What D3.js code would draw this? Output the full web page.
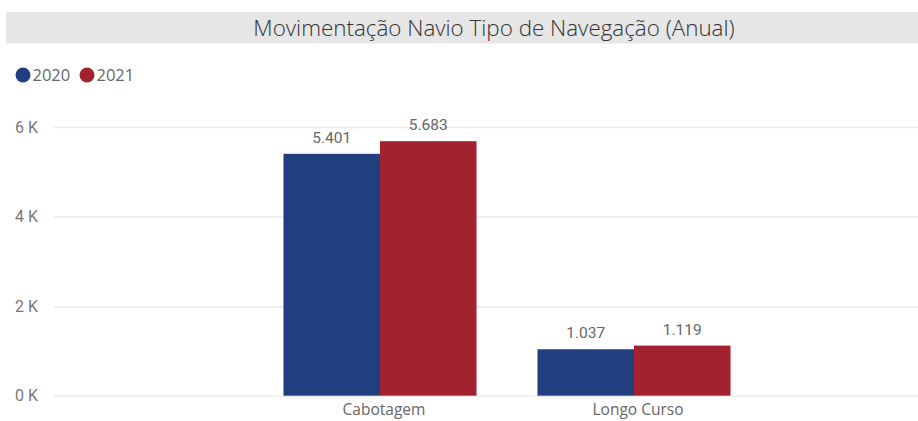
<!DOCTYPE html>
<html>
<head>
<meta charset="utf-8">
<script src="https://cdn.jsdelivr.net/npm/d3@7"></script>
<style>
  html, body { margin: 0; padding: 0; background: #fff; }
  svg { display: block; }
</style>
</head>
<body>
<svg id="chart" width="918" height="421"></svg>
<script>
const title = "Movimentação Navio Tipo de Navegação (Anual)";
const categories = ["Cabotagem", "Longo Curso"];
const seriesNames = ["2020", "2021"];
const values2020 = [5401, 1037];
const values2021 = [5683, 1119];
const yTicks = [0, 2000, 4000, 6000];
const colors = ["#213f7e", "#a32230"];

const W = 918, H = 421;
const svg = d3.select("#chart");

// title bar
svg.append("rect").attr("x", 6).attr("y", 12).attr("width", W - 6).attr("height", 31.5).attr("fill", "#e6e6e6");
svg.append("text").attr("x", 494).attr("y", 36)
  .attr("text-anchor", "middle")
  .attr("font-family", "'Open Sans', 'Noto Sans', sans-serif")
  .attr("font-weight", 300)
  .attr("font-size", 22.4)
  .attr("fill", "#333")
  .text(title);

// legend
const legend = svg.append("g");
const legendX = [23, 87];
seriesNames.forEach((s, i) => {
  legend.append("circle").attr("cx", legendX[i]).attr("cy", 75).attr("r", 7.5).attr("fill", colors[i]);
  legend.append("text").attr("x", legendX[i] + 9.5).attr("y", 81)
    .attr("font-family", "'Open Sans', 'Noto Sans', sans-serif")
    .attr("font-size", 16.5).attr("fill", "#666").text(s);
});

// scales
const y = d3.scaleLinear().domain([0, 6000]).range([395.7, 127]);
const x0 = d3.scaleBand().domain(categories).range([253, 761]).paddingInner(0.24).paddingOuter(0.12);
const x1 = d3.scaleBand().domain(seriesNames).range([0, x0.bandwidth()]);

// gridlines + y axis
const yAxis = d3.axisLeft(y).tickValues(yTicks).tickSize(-(W - 54)).tickFormat(d => (d / 1000) + " K");
const gy = svg.append("g").attr("transform", "translate(54,0)").call(yAxis);
gy.select(".domain").remove();
gy.selectAll(".tick line").attr("stroke", "#ebebeb").attr("stroke-width", 1.5);
gy.selectAll(".tick text")
  .attr("x", -16)
  .attr("font-family", "'Roboto', 'DejaVu Sans', sans-serif")
  .attr("font-size", 16).attr("fill", "#777");

// bars
const data = categories.map((c, i) => ({ cat: c, vals: [values2020[i], values2021[i]] }));
const groups = svg.selectAll("g.grp").data(data).enter().append("g")
  .attr("class", "grp")
  .attr("transform", d => `translate(${x0(d.cat)},0)`);

groups.selectAll("rect").data(d => d.vals.map((v, j) => ({ s: seriesNames[j], v, j })))
  .enter().append("rect")
  .attr("x", d => x1(d.s))
  .attr("width", x1.bandwidth())
  .attr("y", d => y(d.v))
  .attr("height", d => y(0) - y(d.v))
  .attr("fill", d => colors[d.j]);

const fmt = v => d3.format(",")(v).replace(/,/g, ".");
groups.selectAll("text.val").data(d => d.vals.map((v, j) => ({ s: seriesNames[j], v, j })))
  .enter().append("text")
  .attr("class", "val")
  .attr("x", d => x1(d.s) + x1.bandwidth() / 2)
  .attr("y", d => y(d.v) - 11)
  .attr("text-anchor", "middle")
  .attr("font-family", "'Roboto', 'DejaVu Sans', sans-serif")
  .attr("font-size", 15.5).attr("fill", "#666")
  .text(d => fmt(d.v));

// x axis labels
const xAxis = d3.axisBottom(x0).tickSize(0).tickPadding(0);
const gx = svg.append("g").attr("transform", `translate(4,${y(0)})`).call(xAxis);
gx.select(".domain").remove();
gx.selectAll(".tick text")
  .attr("dy", 0).attr("y", 19)
  .attr("font-family", "'Open Sans', 'Noto Sans', sans-serif")
  .attr("font-size", 15.5).attr("fill", "#666");
</script>
</body>
</html>
